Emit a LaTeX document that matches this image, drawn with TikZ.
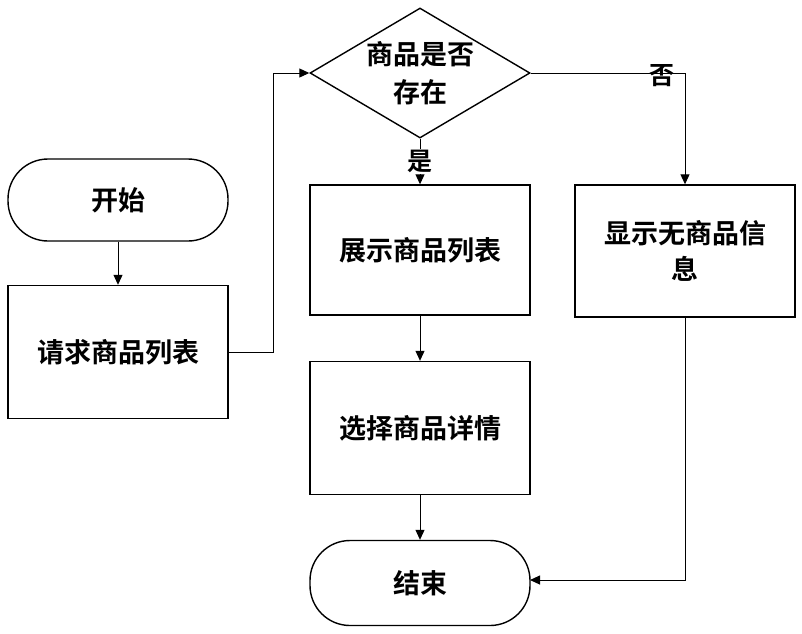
\documentclass[tikz,border=0pt]{standalone}
\usepackage{fontspec}
\setmainfont{Noto Sans CJK SC}[BoldFont={Noto Sans CJK SC Bold}]
\usetikzlibrary{shapes.geometric,arrows.meta}
\begin{document}
\begin{tikzpicture}[x=1pt,y=-1pt,
  box/.style={draw,line width=1.4pt,minimum width=220pt,minimum height=133pt,font=\fontsize{27}{36}\selectfont\bfseries,align=center,text width=205pt,inner sep=0pt},
  term/.style={draw,line width=1.4pt,rounded corners=40pt,minimum width=220pt,minimum height=82pt,font=\fontsize{27}{36}\selectfont\bfseries},
  lab/.style={font=\fontsize{25}{32}\selectfont\bfseries},
  arr/.style={line width=1pt,-{Triangle[length=10pt,width=9pt]}}]
\useasboundingbox (0,0) rectangle (802,633);
\node[term] (start) at (118,200) {开始};
\node[box] (req) at (118,352) {请求商品列表};
\node[draw,line width=1.4pt,diamond,aspect=1.7,minimum width=220pt,minimum height=130pt,inner sep=0pt,font=\fontsize{27}{38}\selectfont\bfseries,align=center] (dec) at (420,73) {商品是否\\存在};
\node[box,minimum height=130pt] (show) at (420,250) {展示商品列表};
\node[box] (sel) at (420,428) {选择商品详情};
\node[term,minimum height=85pt] (end) at (420,583) {结束};
\node[box,minimum height=132pt] (none) at (685,251) {显示无商品信\\息};
\coordinate (c1) at (273,352);
\coordinate (c2) at (273,73);
\coordinate (c3) at (685,73);
\coordinate (c4) at (685,580);
\coordinate (c5) at (530,580);
\draw[arr] (start) -- (req);
\draw[arr] (req.east) -- (c1) -- (c2) -- (dec.west);
\draw[arr] (dec.south) -- node[lab,fill=white,inner sep=1pt,pos=0.5]{是} (show.north);
\draw[arr] (show) -- (sel);
\draw[arr] (sel) -- (end);
\draw[arr] (dec.east) -- (c3) -- (none.north);
\node[lab] (no) at (662,76) {否};
\draw[arr] (none.south) -- (c4) -- (c5);
\end{tikzpicture}
\end{document}
